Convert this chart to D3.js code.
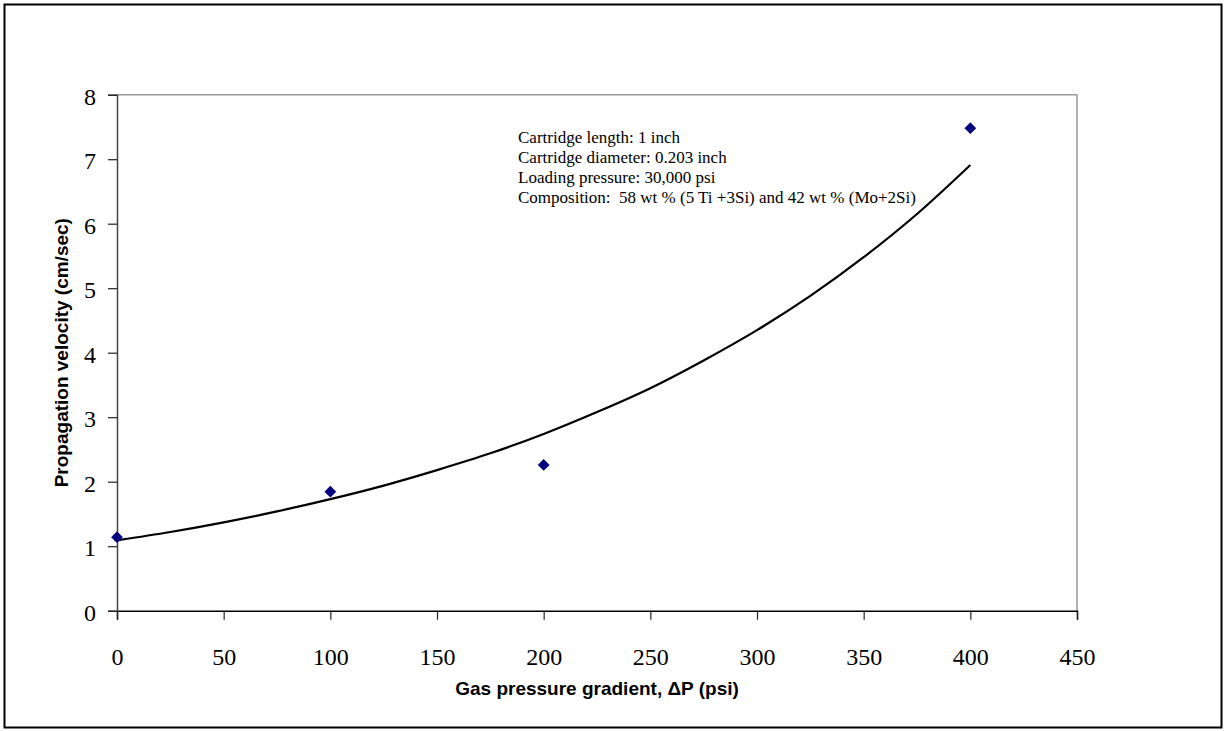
<!DOCTYPE html>
<html>
<head>
<meta charset="utf-8">
<script src="https://cdn.jsdelivr.net/npm/d3@7"></script>
<style>
  body { margin: 0; background: #fff; }
  svg { display: block; }
</style>
</head>
<body>
<div id="chartContainer"></div>
<script>
var width = 1225;
var height = 731;

// measured points
var pressure = [0, 100, 200, 400];
var velocity = [1.14, 1.845, 2.26, 7.48];

// exponential trendline every 25 psi
var trendX = [0, 25, 50, 75, 100, 125, 150, 175, 200, 225, 250, 275, 300, 325, 350, 375, 400];
var trendY = [1.09, 1.22, 1.37, 1.54, 1.73, 1.94, 2.18, 2.44, 2.74, 3.08, 3.45, 3.88, 4.35, 4.88, 5.48, 6.15, 6.91];

var xTicks = [0, 50, 100, 150, 200, 250, 300, 350, 400, 450];
var yTicks = [0, 1, 2, 3, 4, 5, 6, 7, 8];

var notes = [
  "Cartridge length: 1 inch",
  "Cartridge diameter: 0.203 inch",
  "Loading pressure: 30,000 psi",
  "Composition:  58 wt % (5 Ti +3Si) and 42 wt % (Mo+2Si)"
];

var margin = {top: 94.7, right: 148, bottom: 120.3, left: 117};

var svg = d3.select('#chartContainer')
    .append('svg')
    .attr("width", width)
    .attr("height", height);

// outer frame
svg.append("rect")
    .attr("x", 4.5).attr("y", 4.5)
    .attr("width", 1217).attr("height", 723)
    .attr("fill", "none")
    .attr("stroke", "#000")
    .attr("stroke-width", 2);

var x = d3.scaleLinear().domain([0, 450]).range([margin.left, width - margin.right]);
var y = d3.scaleLinear().domain([0, 8]).range([height - margin.bottom, margin.top]);

/***** plot area border (top + right, grey) *****/
svg.append("path")
    .attr("d", "M" + x(0) + "," + y(8) + "H" + x(450) + "V" + y(0))
    .attr("fill", "none")
    .attr("stroke", "#999")
    .attr("stroke-width", 1.5);

/***** Axes *****/
var serif = "'Liberation Serif', 'Times New Roman', serif";

var xAxis = d3.axisBottom(x).tickValues(xTicks).tickSize(9).tickPadding(28).tickFormat(d3.format("d"));
var xAxisGroup = svg.append('g').attr("transform", "translate(0," + y(0) + ")");
xAxis(xAxisGroup);

var yAxis = d3.axisLeft(y).tickValues(yTicks).tickSize(9).tickPadding(12).tickFormat(d3.format("d"));
var yAxisGroup = svg.append('g').attr("transform", "translate(" + x(0) + ",0)");
yAxis(yAxisGroup);

xAxisGroup.select(".domain").attr("stroke", "#000").attr("stroke-width", 1.5);
yAxisGroup.select(".domain").attr("stroke", "#444").attr("stroke-width", 1.5);
svg.selectAll(".tick line").attr("stroke", "#222").attr("stroke-width", 1.2);
svg.selectAll(".tick text")
    .attr("font-family", serif)
    .attr("font-size", 24)
    .attr("fill", "#000");
yAxisGroup.selectAll(".tick text").attr("dy", "0.4em");

/***** Axis titles *****/
svg.append("text")
    .attr("x", (x(0) + x(450)) / 2)
    .attr("y", 695)
    .attr("text-anchor", "middle")
    .attr("font-family", "'Liberation Sans', Arial, sans-serif")
    .attr("font-weight", "bold")
    .attr("font-size", 19)
    .text("Gas pressure gradient, \u0394P (psi)");

svg.append("text")
    .attr("transform", "translate(68," + ((y(0) + y(8)) / 2) + ") rotate(-90)")
    .attr("text-anchor", "middle")
    .attr("font-family", "'Liberation Sans', Arial, sans-serif")
    .attr("font-weight", "bold")
    .attr("font-size", 19)
    .text("Propagation velocity (cm/sec)");

/***** Trendline *****/
var trend = trendX.map(function(d, i) { return [d, trendY[i]]; });
var line = d3.line()
    .x(function(d) { return x(d[0]); })
    .y(function(d) { return y(d[1]); })
    .curve(d3.curveMonotoneX);

svg.append("path")
    .datum(trend)
    .attr("d", line)
    .attr("fill", "none")
    .attr("stroke", "#000")
    .attr("stroke-width", 2.2);

/***** Data points *****/
var points = pressure.map(function(d, i) { return {p: d, v: velocity[i]}; });
var diamond = d3.symbol().type(d3.symbolDiamond2).size(88);

svg.append("g").selectAll("path")
    .data(points)
    .enter().append("path")
    .attr("d", diamond)
    .attr("transform", function(d) { return "translate(" + x(d.p) + "," + y(d.v) + ")"; })
    .attr("fill", "#000080");

/***** Notes *****/
var noteGroup = svg.append("text")
    .attr("font-family", serif)
    .attr("font-size", 17)
    .attr("fill", "#000");
noteGroup.selectAll("tspan")
    .data(notes)
    .enter().append("tspan")
    .attr("x", 518)
    .attr("y", function(d, i) { return 143 + i * 20; })
    .attr("xml:space", "preserve")
    .style("white-space", "pre")
    .text(function(d) { return d; });
</script>
</body>
</html>
